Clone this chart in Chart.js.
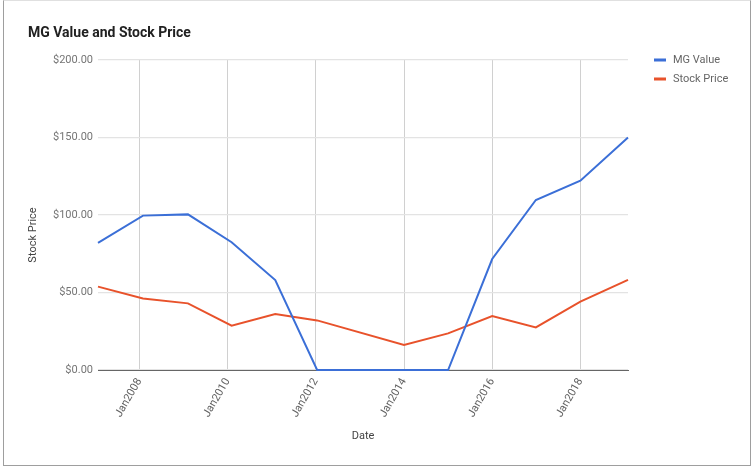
<!DOCTYPE html>
<html>
<head>
<meta charset="utf-8">
<script src="https://cdn.jsdelivr.net/npm/chart.js@4/dist/chart.umd.min.js"></script>
<style>
  html, body { margin: 0; padding: 0; background: #fff; }
  #wrap { position: relative; width: 753px; height: 468px; overflow: hidden; }
  #frame {
    position: absolute; left: 3px; top: 0; width: 746px; height: 464px;
    border: 1px solid #9e9e9e; border-top-color: #e0e0e0;
    pointer-events: none;
  }
  canvas { position: absolute; left: 0; top: 0; }
</style>
</head>
<body>
<div id="wrap">
  <canvas id="chart" width="753" height="468"></canvas>
  <div id="frame"></div>
</div>
<script>
// yearly observations (decimal year of each data point)
const dates = [2007.06, 2008.08, 2009.1, 2010.09, 2011.08, 2012.03, 2014.0, 2015.0, 2016.0, 2016.99, 2018.0, 2019.08];
const mgValue = [82, 99.6, 100.4, 82.4, 58, 0, 0, 0, 71.6, 109.7, 122.1, 150];
const stockPrice = [53.8, 46.2, 43, 28.6, 36.1, 32, 16.1, 23.6, 34.8, 27.5, 44.1, 58.1];
const xTicks = [2008, 2010, 2012, 2014, 2016, 2018];
const yTicks = [0, 50, 100, 150, 200];

const BLUE = '#3b6fd7';
const RED = '#e8522b';
const FONT = 'Roboto, Arial, sans-serif';

const toPoints = values => values.map((v, i) => ({ x: dates[i], y: v }));

/**
 * Draws the title, axis titles and legend where the reference has them.
 */
const textPlugin = {
  id: 'texts',
  afterDraw(chart) {
    const ctx = chart.ctx;
    ctx.save();
    ctx.fillStyle = '#212121';
    ctx.font = 'bold 14px ' + FONT;
    ctx.textAlign = 'left';
    ctx.textBaseline = 'alphabetic';
    ctx.fillText('MG Value and Stock Price', 28, 37);

    ctx.fillStyle = '#444';
    ctx.font = '11px ' + FONT;
    ctx.textAlign = 'center';
    ctx.textBaseline = 'middle';
    ctx.fillText('Date', 363, 436);

    ctx.save();
    ctx.translate(33, 235);
    ctx.rotate(-Math.PI / 2);
    ctx.fillText('Stock Price', 0, 0);
    ctx.restore();

    const items = [
      { label: 'MG Value', color: BLUE, y: 60 },
      { label: 'Stock Price', color: RED, y: 79 }
    ];
    ctx.textAlign = 'left';
    items.forEach(item => {
      ctx.fillStyle = item.color;
      ctx.fillRect(654, item.y - 1.5, 12, 3);
      ctx.fillStyle = '#666';
      ctx.fillText(item.label, 673, item.y);
    });
    ctx.restore();
  }
};

new Chart(document.getElementById('chart').getContext('2d'), {
  type: 'line',
  plugins: [textPlugin],
  data: {
    datasets: [
      {
        label: 'MG Value',
        data: toPoints(mgValue),
        borderColor: BLUE,
        borderWidth: 2,
        pointRadius: 0,
        tension: 0,
        fill: false,
        clip: 3
      },
      {
        label: 'Stock Price',
        data: toPoints(stockPrice),
        borderColor: RED,
        borderWidth: 2,
        pointRadius: 0,
        tension: 0,
        fill: false,
        clip: 3
      }
    ]
  },
  options: {
    responsive: false,
    animation: false,
    layout: { padding: { left: 0, top: 60, right: 125, bottom: 0 } },
    plugins: {
      legend: { display: false },
      title: { display: false },
      tooltip: { enabled: false }
    },
    scales: {
      x: {
        type: 'linear',
        min: dates[0],
        max: dates[dates.length - 1],
        afterBuildTicks: scale => { scale.ticks = xTicks.map(v => ({ value: v })); },
        afterFit: scale => { scale.height = 98; },
        grid: { color: '#d0d0d0', drawTicks: false },
        border: { display: true, color: '#666', width: 1 },
        ticks: {
          autoSkip: false,
          minRotation: 60,
          maxRotation: 60,
          padding: 6,
          color: '#616161',
          font: { family: FONT, size: 11 },
          callback: v => 'Jan' + v
        }
      },
      y: {
        min: 0,
        max: 200,
        afterBuildTicks: scale => { scale.ticks = yTicks.map(v => ({ value: v })); },
        afterFit: scale => { scale.width = 98; },
        grid: { color: '#e3e3e3', lineWidth: 1.2, drawTicks: false },
        border: { display: false },
        ticks: {
          padding: 5,
          color: '#757575',
          font: { family: FONT, size: 11 },
          callback: v => '$' + v.toFixed(2)
        }
      }
    }
  }
});
</script>
</body>
</html>
